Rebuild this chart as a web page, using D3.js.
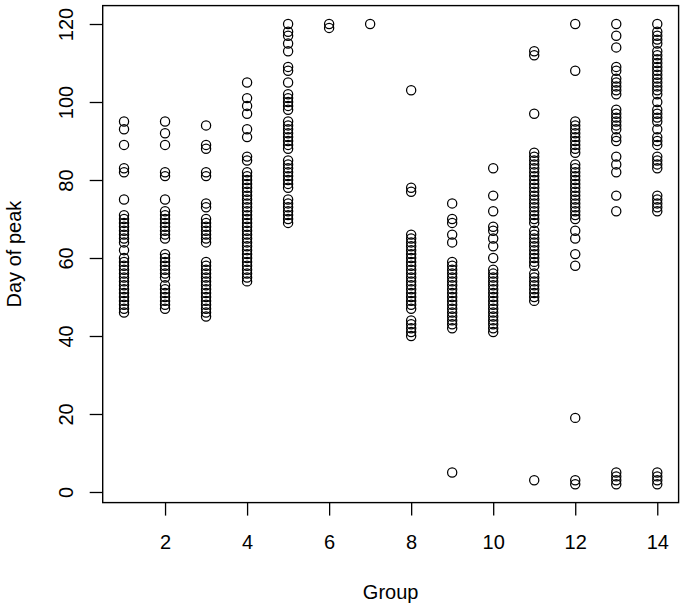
<!DOCTYPE html>
<html>
<head>
<meta charset="utf-8">
<script src="https://cdn.jsdelivr.net/npm/d3@7"></script>
<style>
  body { margin: 0; background: #fff; }
  text { font-family: "Liberation Sans", Arial, Helvetica, sans-serif; fill: #000; }
</style>
</head>
<body>
<svg id="chart" width="685" height="610"></svg>
<script>
// day of peak, one array per group (distinct values)
const group1 = [95, 93, 89, 83, 82, 75, 71, 70, 69, 68, 67, 66, 65, 64, 62, 60, 59, 58, 57, 56, 55, 54, 53, 52, 51, 50, 49, 48, 47, 46]
const group2 = [95, 92, 89, 82, 81, 75, 72, 71, 70, 69, 68, 67, 66, 65, 61, 60, 59, 58, 57, 56, 55, 53, 52, 51, 50, 49, 48, 47]
const group3 = [94, 89, 88, 82, 81, 74, 73, 70, 69, 68, 67, 66, 65, 64, 59, 58, 57, 56, 55, 54, 53, 52, 51, 50, 49, 48, 47, 46, 45]
const group4 = [105, 101, 99, 97, 93, 91, 86, 85, 82, 81, 80, 79, 78, 77, 76, 75, 74, 73, 72, 71, 70, 69, 68, 67, 66, 65, 64, 63, 62, 61, 60, 59, 58, 57, 56, 55, 54]
const group5 = [120, 118, 117, 115, 113, 109, 108, 105, 102, 101, 100, 99, 98, 95, 94, 93, 92, 91, 90, 89, 88, 85, 84, 83, 82, 81, 80, 79, 78, 75, 74, 73, 72, 71, 70, 69]
const group6 = [120, 119]
const group7 = [120]
const group8 = [103, 78, 77, 66, 65, 64, 63, 62, 61, 60, 59, 58, 57, 56, 55, 54, 53, 52, 51, 50, 49, 48, 47, 44, 43, 42, 41, 40]
const group9 = [74, 70, 69, 66, 64, 59, 58, 57, 56, 55, 54, 53, 52, 51, 50, 49, 48, 47, 46, 45, 44, 43, 42, 5]
const group10 = [83, 76, 72, 68, 67, 65, 63, 60, 57, 56, 55, 54, 53, 52, 51, 50, 49, 48, 47, 46, 45, 44, 43, 42, 41]
const group11 = [113, 112, 97, 87, 86, 85, 84, 83, 82, 81, 80, 79, 78, 77, 76, 75, 74, 73, 72, 71, 70, 69, 67, 66, 65, 64, 63, 62, 61, 60, 59, 58, 56, 55, 54, 53, 52, 51, 50, 49, 3]
const group12 = [120, 108, 95, 94, 93, 92, 91, 90, 89, 88, 87, 84, 83, 82, 81, 80, 79, 78, 77, 76, 75, 74, 73, 72, 71, 70, 67, 65, 61, 58, 19, 3, 2]
const group13 = [120, 117, 114, 109, 108, 106, 105, 104, 103, 102, 98, 97, 96, 95, 94, 93, 91, 90, 86, 84, 82, 76, 72, 5, 4, 3, 2]
const group14 = [120, 118, 117, 116, 115, 113, 112, 111, 110, 109, 108, 107, 106, 105, 104, 103, 102, 100, 98, 97, 96, 95, 93, 91, 90, 89, 86, 85, 84, 83, 76, 75, 74, 73, 72, 5, 4, 3, 2]

const groupValues = [group1, group2, group3, group4, group5, group6, group7,
    group8, group9, group10, group11, group12, group13, group14]
const xTicks = [2, 4, 6, 8, 10, 12, 14]
const yTicks = [0, 20, 40, 60, 80, 100, 120]

const points = []
groupValues.forEach((vals, i) => {
    vals.forEach(v => points.push({ group: i + 1, day: v }))
})

const svg = d3.select('#chart')
const plot = { left: 102.7, right: 678.6, top: 5.6, bottom: 502.6 }
const fontSize = "20px"

// R style 4% padding on each side
function padded(ext) {
    const d = (ext[1] - ext[0]) * 0.04
    return [ext[0] - d, ext[1] + d]
}

const x = d3.scaleLinear()
    .domain(padded(d3.extent(points, d => d.group)))
    .range([plot.left, plot.right])

const y = d3.scaleLinear()
    .domain(padded(d3.extent(points, d => d.day)))
    .range([plot.bottom, plot.top])

// points
svg.append("g")
    .selectAll("circle")
    .data(points)
    .enter().append("circle")
    .attr("cx", d => x(d.group))
    .attr("cy", d => y(d.day))
    .attr("r", 4.6)
    .attr("fill", "none")
    .attr("stroke", "#000")
    .attr("stroke-width", 1.25)

// axes
const xAxis = svg.append("g")
    .attr("transform", `translate(0,${plot.bottom})`)
    .call(d3.axisBottom(x).tickValues(xTicks).tickSize(13).tickFormat(d3.format("d")))
xAxis.select(".domain").remove()
xAxis.selectAll(".tick line").attr("stroke", "#000").attr("stroke-width", 1.3)
xAxis.selectAll(".tick text")
    .attr("y", 46.5)
    .attr("dy", 0)
    .style("font-size", fontSize)
    .style("font-family", '"Liberation Sans", Arial, sans-serif')

const yAxis = svg.append("g")
    .attr("transform", `translate(${plot.left},0)`)
    .call(d3.axisLeft(y).tickValues(yTicks).tickSize(13).tickFormat(d3.format("d")))
yAxis.select(".domain").remove()
yAxis.selectAll(".tick line").attr("stroke", "#000").attr("stroke-width", 1.3)
yAxis.selectAll(".tick text")
    .attr("x", 0)
    .attr("dy", 0)
    .attr("text-anchor", "middle")
    .attr("transform", "translate(-30,0) rotate(-90)")
    .style("font-size", fontSize)
    .style("font-family", '"Liberation Sans", Arial, sans-serif')

// frame
svg.append("rect")
    .attr("x", plot.left)
    .attr("y", plot.top)
    .attr("width", plot.right - plot.left)
    .attr("height", plot.bottom - plot.top)
    .attr("fill", "none")
    .attr("stroke", "#000")
    .attr("stroke-width", 1.4)

// titles
svg.append("text")
    .attr("x", (plot.left + plot.right) / 2)
    .attr("y", 599)
    .attr("text-anchor", "middle")
    .style("font-size", fontSize)
    .text("Group")

svg.append("text")
    .attr("transform", `translate(21,${(plot.top + plot.bottom) / 2}) rotate(-90)`)
    .attr("text-anchor", "middle")
    .style("font-size", fontSize)
    .text("Day of peak")
</script>
</body>
</html>
